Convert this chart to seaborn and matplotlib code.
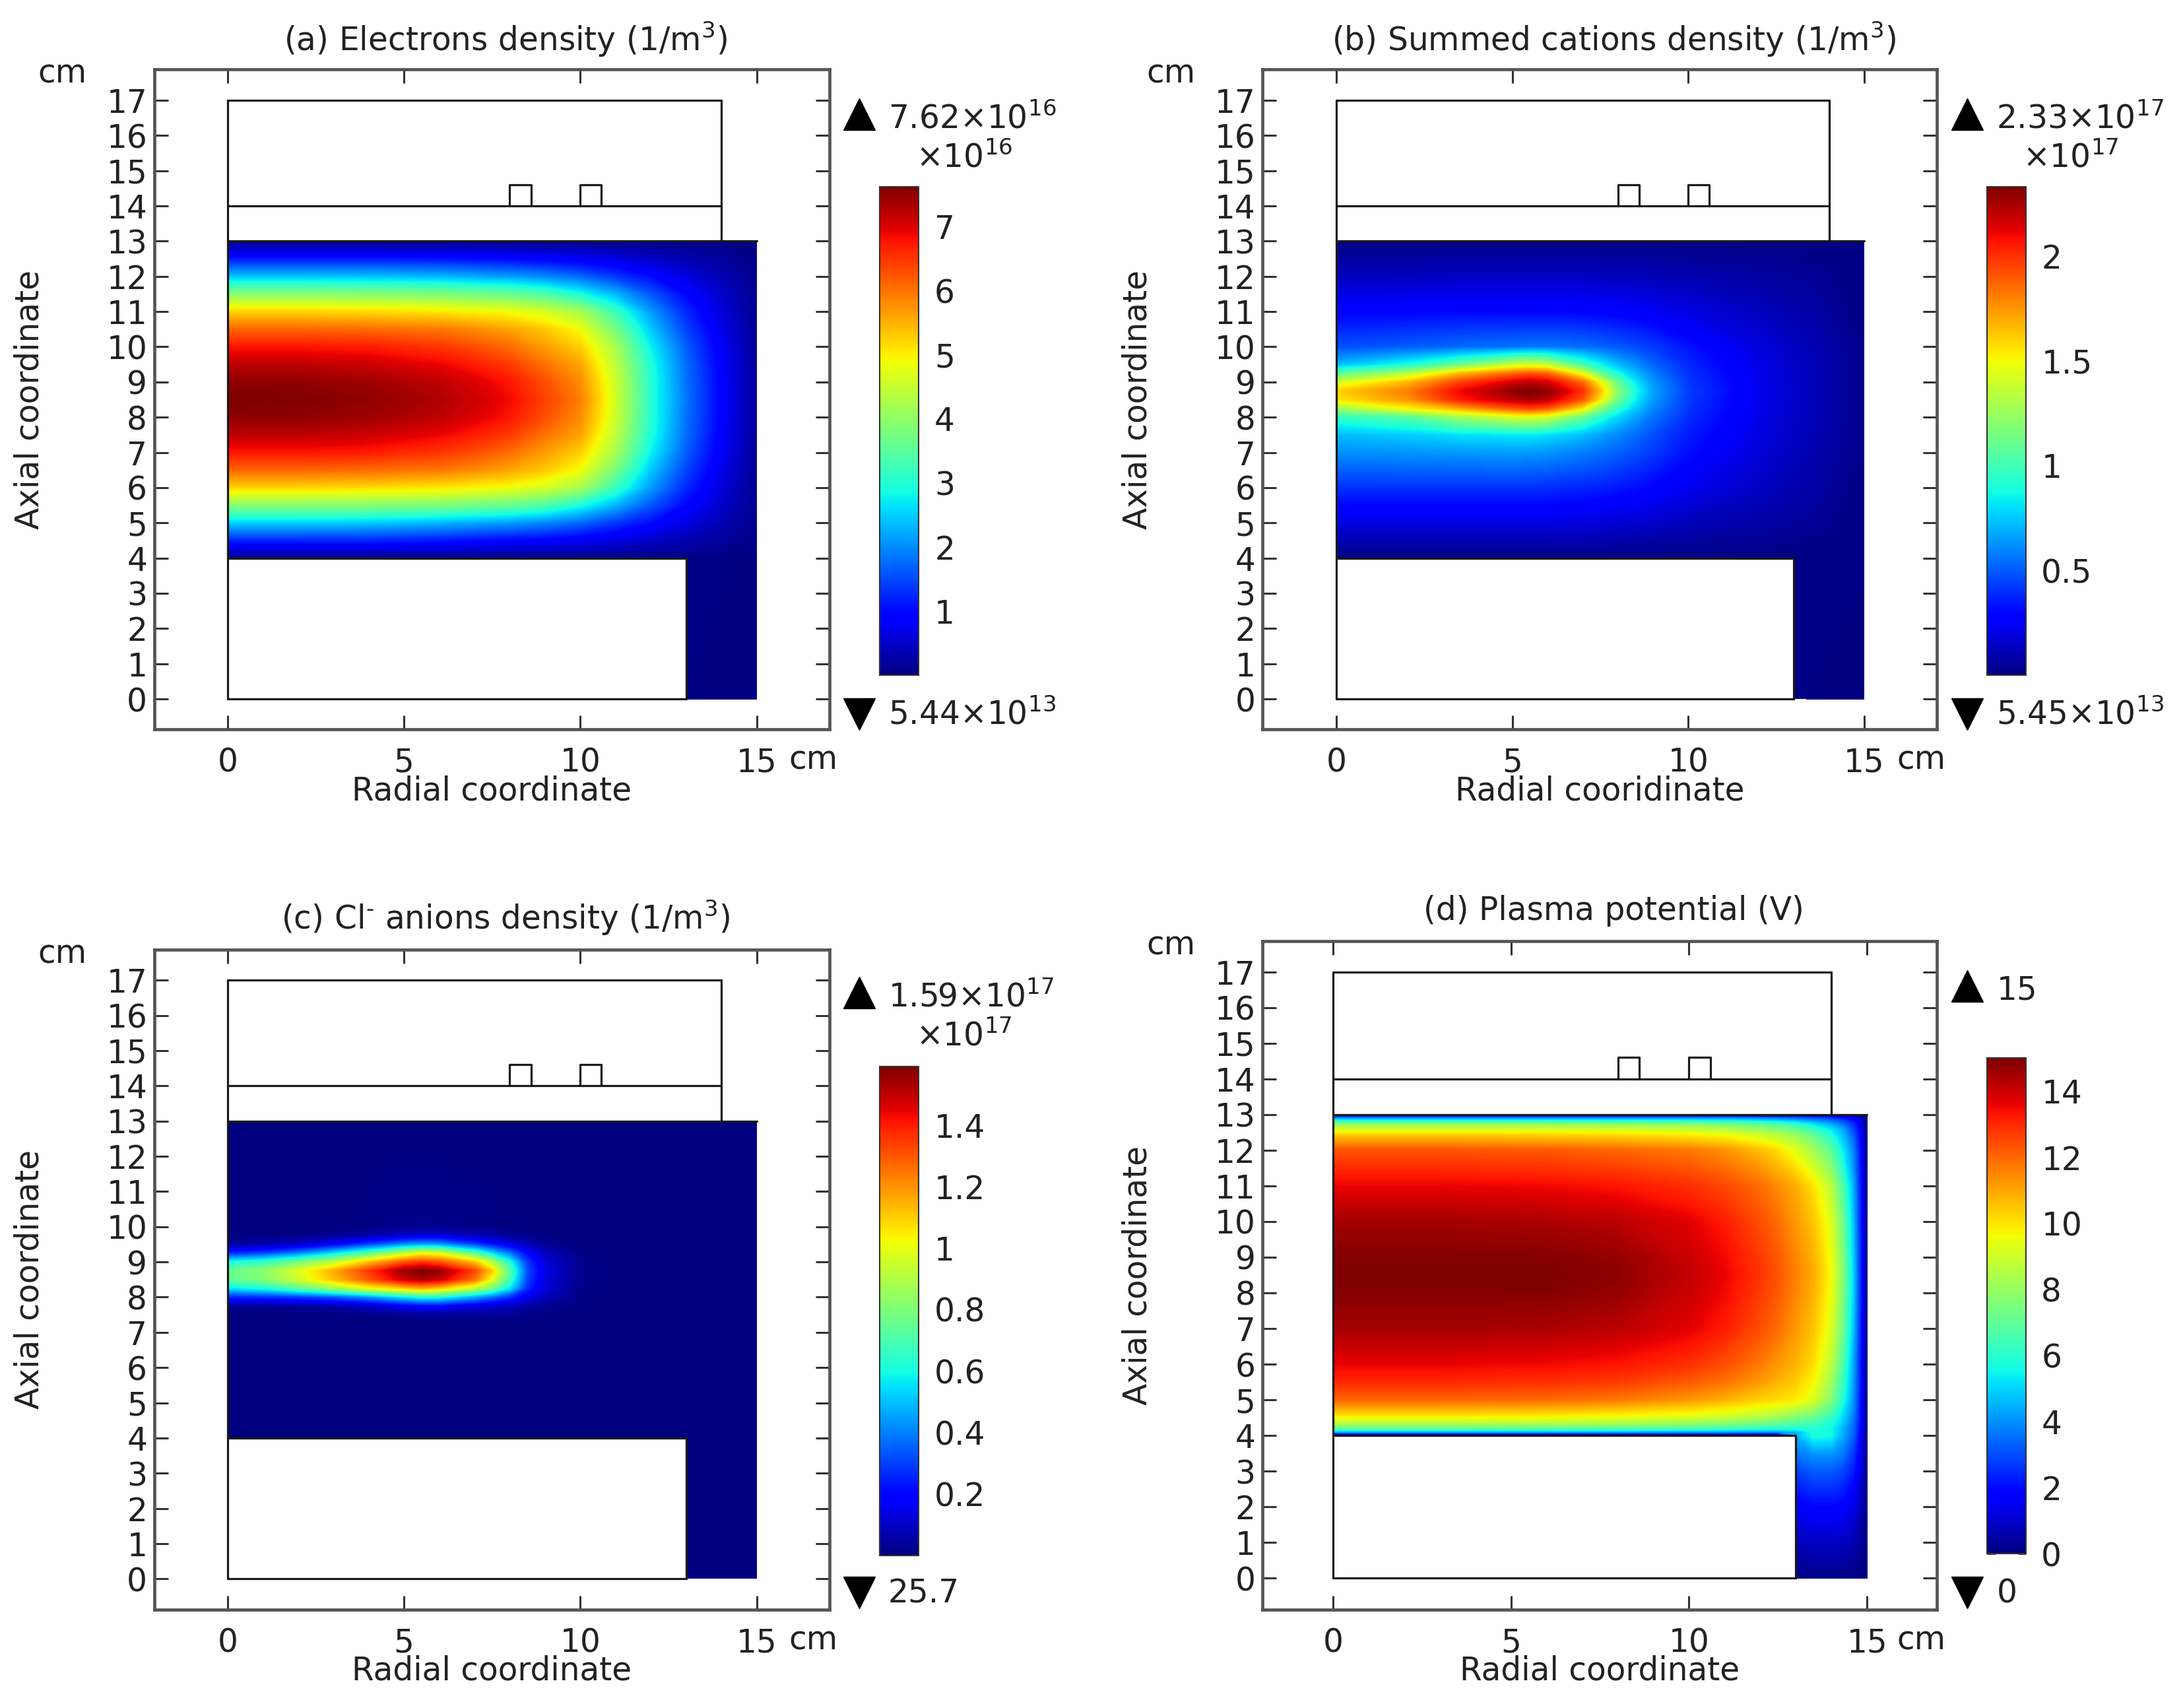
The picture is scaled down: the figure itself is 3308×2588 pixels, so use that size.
import numpy as np
import matplotlib
matplotlib.use("Agg")
import matplotlib.pyplot as plt
from matplotlib.cm import ScalarMappable
from matplotlib.colors import Normalize
from matplotlib.lines import Line2D
import seaborn as sns

# ---------- values ----------
R_A = [0, 2, 4, 6, 7, 8, 9, 10, 11, 12, 13, 14, 15]
Z_A = [4, 4.5, 5, 5.5, 6, 6.5, 7, 7.5, 8, 8.5, 9, 9.5, 10, 10.5, 11, 11.5, 12, 12.5, 13]
ELECTRONS = [
    [.05, .05, .05, .05, .05, .05, .05, .05, .05, .05, .05, .05, .02],
    [1.2, 1.2, 1.2, 1.1, 1.0, .95, .88, .78, .65, .48, .32, .2, .05],
    [2.5, 2.5, 2.45, 2.3, 2.2, 2.1, 1.95, 1.7, 1.35, 1.0, .65, .35, .1],
    [3.9, 3.9, 3.88, 3.8, 3.7, 3.6, 3.35, 2.9, 2.3, 1.6, .95, .5, .1],
    [5.2, 5.2, 5.15, 5.05, 4.95, 4.85, 4.6, 4.2, 3.2, 2.1, 1.25, .6, .12],
    [6.1, 6.1, 6.05, 5.95, 5.8, 5.6, 5.3, 4.85, 3.75, 2.45, 1.45, .7, .14],
    [6.75, 6.75, 6.7, 6.5, 6.3, 6.05, 5.65, 5.25, 4.2, 2.75, 1.65, .8, .15],
    [7.2, 7.2, 7.1, 6.9, 6.7, 6.45, 6.0, 5.6, 4.4, 2.95, 1.75, .85, .16],
    [7.5, 7.5, 7.4, 7.2, 7.0, 6.75, 6.3, 5.8, 4.55, 3.0, 1.8, .9, .17],
    [7.62, 7.6, 7.5, 7.3, 7.1, 6.85, 6.4, 5.9, 4.6, 3.0, 1.85, .9, .17],
    [7.5, 7.5, 7.4, 7.2, 7.0, 6.75, 6.3, 5.8, 4.55, 3.0, 1.8, .9, .17],
    [7.2, 7.2, 7.1, 6.9, 6.7, 6.45, 6.0, 5.6, 4.4, 2.95, 1.75, .85, .16],
    [6.75, 6.75, 6.7, 6.5, 6.3, 6.05, 5.65, 5.25, 4.2, 2.75, 1.65, .8, .15],
    [6.1, 6.1, 6.05, 5.95, 5.8, 5.6, 5.3, 4.85, 3.75, 2.45, 1.45, .7, .14],
    [5.2, 5.2, 5.15, 5.05, 4.95, 4.85, 4.6, 4.2, 3.2, 2.1, 1.25, .6, .12],
    [3.9, 3.9, 3.88, 3.8, 3.7, 3.6, 3.35, 2.9, 2.3, 1.6, .95, .5, .1],
    [2.4, 2.4, 2.38, 2.3, 2.2, 2.1, 1.95, 1.7, 1.35, 1.0, .65, .35, .1],
    [1.1, 1.1, 1.1, 1.05, 1.0, .95, .88, .78, .65, .48, .32, .2, .05],
    [.05, .05, .05, .05, .05, .05, .05, .05, .05, .05, .05, .05, .02],
]

R_B = [0, 2, 3.5, 5, 5.5, 6, 7, 7.5, 8, 8.5, 9, 10, 12, 13.5, 15]
Z_B = [4, 5, 6, 7, 7.5, 8, 8.25, 8.5, 8.75, 9, 9.25, 9.5, 10, 11, 12, 13]
CATIONS = [
    [.01, .01, .01, .01, .01, .01, .01, .01, .01, .01, .01, .01, .01, .01, .01],
    [.2, .2, .2, .2, .2, .2, .19, .18, .17, .16, .15, .12, .08, .05, .01],
    [.4, .4, .4, .4, .4, .39, .37, .36, .34, .32, .29, .23, .14, .08, .01],
    [.62, .63, .64, .65, .64, .63, .58, .55, .51, .47, .42, .32, .18, .1, .02],
    [.72, .76, .8, .82, .82, .8, .72, .66, .6, .54, .47, .35, .2, .11, .02],
    [.95, 1.05, 1.25, 1.4, 1.42, 1.38, 1.1, .92, .78, .66, .55, .39, .21, .12, .02],
    [1.25, 1.5, 1.7, 1.9, 1.95, 1.9, 1.55, 1.2, .95, .75, .6, .41, .22, .12, .02],
    [1.55, 1.75, 2.05, 2.2, 2.25, 2.2, 1.9, 1.55, 1.12, .84, .64, .42, .22, .12, .02],
    [1.6, 1.8, 2.1, 2.3, 2.33, 2.3, 2.0, 1.65, 1.2, .88, .66, .43, .23, .12, .02],
    [1.4, 1.65, 1.95, 2.15, 2.2, 2.15, 1.85, 1.5, 1.1, .82, .63, .42, .22, .12, .02],
    [1.05, 1.3, 1.65, 1.85, 1.9, 1.85, 1.45, 1.1, .88, .72, .58, .4, .22, .12, .02],
    [.72, .88, 1.1, 1.35, 1.4, 1.35, 1.0, .85, .72, .62, .52, .38, .21, .12, .02],
    [.47, .5, .53, .55, .56, .56, .54, .52, .49, .46, .42, .33, .19, .11, .02],
    [.28, .29, .3, .3, .3, .3, .29, .28, .27, .26, .24, .2, .13, .08, .01],
    [.13, .13, .14, .14, .14, .14, .14, .13, .12, .12, .11, .1, .07, .05, .01],
    [.01, .01, .01, .01, .01, .01, .01, .01, .01, .01, .01, .01, .01, .01, .01],
]

R_C = [0, 1, 2, 3, 4, 5, 5.5, 6, 7, 7.5, 8, 8.5, 9, 10, 11, 15]
Z_C = [4, 7.25, 7.5, 7.75, 8, 8.25, 8.5, 8.75, 9, 9.25, 9.5, 9.75, 10, 13]
ANIONS = [
    [0, 0, 0, 0, 0, 0, 0, 0, 0, 0, 0, 0, 0, 0, 0, 0],
    [0, 0, 0, 0, 0, 0, 0, 0, 0, 0, 0, 0, 0, 0, 0, 0],
    [0, 0, 0, 0, .01, .02, .03, .03, .03, .03, .03, .02, .01, 0, 0, 0],
    [.03, .03, .04, .06, .1, .17, .19, .19, .14, .11, .08, .05, .03, .01, 0, 0],
    [.25, .26, .28, .33, .42, .55, .6, .6, .45, .36, .27, .16, .08, .01, 0, 0],
    [.55, .6, .72, .85, 1.0, 1.1, 1.15, 1.1, .92, .78, .55, .26, .12, .02, 0, 0],
    [.74, .8, .95, 1.12, 1.3, 1.48, 1.52, 1.48, 1.25, 1.0, .68, .3, .13, .02, 0, 0],
    [.76, .82, .98, 1.15, 1.35, 1.55, 1.59, 1.56, 1.33, 1.1, .72, .32, .14, .02, 0, 0],
    [.6, .66, .78, .92, 1.12, 1.3, 1.35, 1.3, 1.12, .9, .62, .28, .12, .02, 0, 0],
    [.25, .3, .4, .55, .72, .92, 1.0, .98, .72, .55, .38, .2, .09, .01, 0, 0],
    [.04, .06, .1, .18, .3, .42, .45, .44, .3, .22, .15, .08, .03, 0, 0, 0],
    [0, .01, .01, .03, .06, .1, .12, .12, .08, .06, .04, .02, .01, 0, 0, 0],
    [0, 0, 0, 0, .01, .02, .02, .02, .01, .01, 0, 0, 0, 0, 0, 0],
    [0, 0, 0, 0, 0, 0, 0, 0, 0, 0, 0, 0, 0, 0, 0, 0],
]

R_D = [0, 3, 6, 8, 10, 11, 12, 12.5, 13, 13.5, 14, 14.3, 14.6, 14.85, 15]
Z_D = [4, 4.1, 4.2, 4.4, 4.6, 5, 5.5, 6, 7, 8, 8.5, 9, 10, 11, 12, 12.4, 12.6, 12.75, 12.9, 13]
POTENTIAL = [
    [0, 0, 0, 0, 0, 0, 0, 0, 4.5, 5.8, 5.6, 4.5, 3.4, 1.5, 0],
    [4.5, 4.5, 4.5, 4.4, 4.3, 4.2, 4.1, 4.1, 4.5, 5.8, 5.6, 4.6, 3.5, 1.6, 0],
    [7, 7, 6.9, 6.8, 6.6, 6.4, 6.1, 6, 5.9, 5.9, 5.6, 4.6, 3.5, 1.7, 0],
    [9, 9, 8.9, 8.8, 8.4, 8.1, 7.7, 7.4, 7, 6.6, 5.9, 5, 3.7, 1.7, 0],
    [10.2, 10.2, 10.1, 9.9, 9.6, 9.3, 8.9, 8.5, 8, 7.5, 6.5, 5.3, 3.9, 1.8, 0],
    [12, 12, 11.9, 11.7, 11.2, 10.8, 10.3, 10.1, 9.9, 9.2, 7.6, 6, 4.2, 1.8, 0],
    [13, 13, 12.9, 12.7, 12.2, 11.8, 11.2, 10.8, 10.4, 9.7, 8.1, 6.4, 4.4, 1.9, 0],
    [13.6, 13.6, 13.5, 13.3, 12.9, 12.4, 11.7, 11.2, 10.8, 10.1, 8.6, 6.8, 4.5, 1.9, 0],
    [14.5, 14.5, 14.4, 14.2, 13.7, 13.2, 12.4, 11.9, 11.2, 10.5, 9.2, 7.4, 4.9, 2, 0],
    [14.9, 14.9, 14.9, 14.7, 14, 13.5, 12.7, 12.2, 11.5, 10.8, 9.5, 7.7, 5.1, 2.1, 0],
    [15, 15, 15, 14.8, 14.1, 13.6, 12.8, 12.3, 11.6, 10.9, 9.6, 7.8, 5.2, 2.1, 0],
    [14.9, 14.9, 14.9, 14.7, 14, 13.5, 12.7, 12.2, 11.5, 10.8, 9.5, 7.7, 5.1, 2.1, 0],
    [14.5, 14.5, 14.4, 14.2, 13.7, 13.2, 12.4, 11.9, 11.2, 10.5, 9.2, 7.4, 4.9, 2, 0],
    [13.6, 13.6, 13.5, 13.3, 12.9, 12.5, 11.9, 11.4, 10.9, 10, 8.6, 6.8, 4.6, 1.9, 0],
    [12.3, 12.3, 12.2, 12, 11.7, 11.3, 10.6, 10.1, 9.3, 8.2, 6.9, 5.5, 3.9, 1.8, 0],
    [10.5, 10.5, 10.4, 10.3, 10, 9.7, 9.1, 8.7, 8.1, 7.1, 5.9, 4.8, 3.4, 1.6, 0],
    [9, 9, 9, 8.9, 8.7, 8.4, 7.9, 7.5, 7, 6.2, 5.2, 4.3, 3, 1.4, 0],
    [7.5, 7.5, 7.5, 7.4, 7.3, 7.1, 6.7, 6.3, 5.8, 5, 4.2, 3.5, 2.5, 1.2, 0],
    [4, 4, 4, 4, 4, 4, 3.8, 3.6, 3.4, 3.1, 2.7, 2.2, 1.6, .8, 0],
    [0, 0, 0, 0, 0, 0, 0, 0, 0, 0, 0, 0, 0, 0, 0],
]

LEG_R_SIMPLE = [13, 15]
LEG_Z_SIMPLE = [0, 4]
LEG_ELECTRONS = [[.03, .02], [.05, .02]]
LEG_CATIONS = [[.01, .005], [.01, .01]]
LEG_ANIONS = [[0, 0], [.001, .001]]
LEG_R_D = [13, 13.5, 14, 14.3, 14.6, 14.85, 15]
LEG_Z_D = [0, 1, 2, 3, 3.5, 4]
LEG_POTENTIAL = [
    [.1, .1, .1, .1, .1, .05, 0],
    [.7, .9, .9, .85, .7, .35, 0],
    [1.6, 1.9, 1.9, 1.8, 1.4, .7, 0],
    [2.8, 3.2, 3.2, 2.9, 2.3, 1.1, 0],
    [3.6, 4.1, 4.1, 3.7, 2.8, 1.3, 0],
    [4.5, 5.8, 5.6, 4.5, 3.4, 1.5, 0],
]

R_TICKS = [0, 5, 10, 15]
Z_TICKS = list(range(18))
TITLES = [r"(a) Electrons density (1/m$^{3}$)", r"(b) Summed cations density (1/m$^{3}$)",
          r"(c) Cl$^{\text{-}}$ anions density (1/m$^{3}$)", "(d) Plasma potential (V)"]
XLABELS = ["Radial coordinate", "Radial cooridinate", "Radial coordinate", "Radial coordinate"]
YLABEL = "Axial coordinate"
MAX_LABELS = [r"$7.62{\times}10^{16}$", r"$2.33{\times}10^{17}$", r"$1.59{\times}10^{17}$", "15"]
MIN_LABELS = [r"$5.44{\times}10^{13}$", r"$5.45{\times}10^{13}$", "25.7", "0"]
SCALE_LABELS = [r"${\times}10^{16}$", r"${\times}10^{17}$", r"${\times}10^{17}$", None]
CBAR_TICKS = [[1, 2, 3, 4, 5, 6, 7], [.5, 1, 1.5, 2], [.2, .4, .6, .8, 1, 1.2, 1.4],
              [0, 2, 4, 6, 8, 10, 12, 14]]
CBAR_TICKLABELS = [["1", "2", "3", "4", "5", "6", "7"], ["0.5", "1", "1.5", "2"],
                   ["0.2", "0.4", "0.6", "0.8", "1", "1.2", "1.4"],
                   ["0", "2", "4", "6", "8", "10", "12", "14"]]
CBAR_MAX = [7.62, 2.33, 1.59, 15]

# Device outline segments (r list, z list)
SEGMENTS = [
    ([0, 13], [0, 0]), ([13, 13], [0, 4]), ([0, 13], [4, 4]), ([0, 0], [0, 17]),
    ([0, 14], [17, 17]), ([14, 14], [13, 17]), ([0, 14], [14, 14]), ([0, 15], [13, 13]),
    ([8, 8, 8.6, 8.6], [14, 14.6, 14.6, 14]), ([10, 10, 10.6, 10.6], [14, 14.6, 14.6, 14]),
]

# ---------- layout in the shrunk-picture pixels (1568 wide) ----------
W, H = 3308, 2588
S = W / 1568


def fx(x):
    return x * S / W


def fy(y):
    return 1 - y * S / H


PANELS = [
    dict(frame=(111, 50, 596, 524), r0=163.5, r15=543.5, z0=502, z17=72, cbar=(632, 134, 660, 485)),
    dict(frame=(907, 50, 1391, 524), r0=960, r15=1339, z0=502, z17=72, cbar=(1427, 134, 1455, 485)),
    dict(frame=(111, 682, 596, 1156), r0=163.5, r15=543.5, z0=1134, z17=704, cbar=(632, 766, 660, 1117)),
    dict(frame=(907, 676, 1391, 1156), r0=957.5, r15=1341, z0=1133.5, z17=698, cbar=(1427, 760, 1455, 1116)),
]
TITLE_POS = [(363, 32), (1159, 32), (363, 663), (1159, 658)]
XLABEL_POS = [(353, 568), (1149, 568), (353, 1200), (1149, 1200)]
YLABEL_X = [21, 817, 21, 817]
CM_TOP = [(45, 53), (841, 53), (45, 685), (841, 679)]
CM_BOTTOM = [(584, 546), (1380, 546), (584, 1178), (1380, 1178)]
TRI_X = [618, 1414, 618, 1414]
TRI_UP_Y = [82, 82, 713, 708]
TRI_DOWN_Y = [513, 513, 1144, 1144]
SCALE_X = [658, 1453, 658, None]
SCALE_Y = [120, 120, 751, None]

FIELDS = [(R_A, Z_A, ELECTRONS, LEG_R_SIMPLE, LEG_Z_SIMPLE, LEG_ELECTRONS),
          (R_B, Z_B, CATIONS, LEG_R_SIMPLE, LEG_Z_SIMPLE, LEG_CATIONS),
          (R_C, Z_C, ANIONS, LEG_R_SIMPLE, LEG_Z_SIMPLE, LEG_ANIONS),
          (R_D, Z_D, POTENTIAL, LEG_R_D, LEG_Z_D, LEG_POTENTIAL)]

# ---------- drawing ----------
sns.set_theme(style="white")
plt.rcParams["font.family"] = ["DejaVu Sans"]
plt.rcParams["mathtext.fontset"] = "dejavusans"
plt.rcParams["mathtext.default"] = "regular"
TEXT = "#222222"
FS = 35
CMAP = matplotlib.colormaps["jet"]

fig = plt.figure(figsize=(W / 100, H / 100), dpi=100, facecolor="white")

for i, p in enumerate(PANELS):
    l, t, r, b = p["frame"]
    ax = fig.add_axes([fx(l), fy(b), fx(r) - fx(l), fy(t) - fy(b)])
    sx = (p["r15"] - p["r0"]) / 15
    sz = (p["z0"] - p["z17"]) / 17
    ax.set_xlim((l - p["r0"]) / sx, (r - p["r0"]) / sx)
    ax.set_ylim((p["z0"] - b) / sz, (p["z0"] - t) / sz)

    vmax = CBAR_MAX[i]
    levels = np.linspace(0, vmax, 257)
    rr, zz, vals, leg_r, leg_z, leg_vals = FIELDS[i]
    ax.contourf(rr, zz, np.array(vals), levels=levels, cmap=CMAP, extend="both", antialiased=False, zorder=1)
    ax.contourf(leg_r, leg_z, np.array(leg_vals), levels=levels, cmap=CMAP, extend="both", antialiased=False, zorder=1)

    for seg_r, seg_z in SEGMENTS:
        sns.lineplot(x=seg_r, y=seg_z, sort=False, estimator=None, ax=ax, color="#1a1a1a",
                     linewidth=2.3, legend=False, zorder=3)

    ax.set_xticks(R_TICKS)
    ax.set_xticklabels([str(v) for v in R_TICKS])
    ax.set_yticks(Z_TICKS)
    ax.set_yticklabels([str(v) for v in Z_TICKS])
    ax.tick_params(axis="both", direction="in", length=15, width=2.2, color="#333333",
                   top=True, right=True, bottom=True, left=True, labelsize=FS, labelcolor=TEXT)
    ax.tick_params(axis="x", pad=19)
    ax.tick_params(axis="y", pad=8)
    for s in ax.spines.values():
        s.set_color("#555555")
        s.set_linewidth(3.4)
        s.set_visible(True)

    tx, ty = TITLE_POS[i]
    ax.set_title(TITLES[i], fontsize=FS, color=TEXT, x=(tx - l) / (r - l), y=(b - ty) / (b - t), va="center")
    xx, xy = XLABEL_POS[i]
    ax.set_xlabel(XLABELS[i], fontsize=FS, color=TEXT, va="center")
    ax.xaxis.set_label_coords(fx(xx), fy(xy), transform=fig.transFigure)
    ax.set_ylabel(YLABEL, fontsize=FS, color=TEXT, va="center")
    ax.yaxis.set_label_coords(fx(YLABEL_X[i]), fy((t + b) / 2), transform=fig.transFigure)

    fig.text(fx(CM_TOP[i][0]), fy(CM_TOP[i][1]), "cm", fontsize=FS, color=TEXT, ha="center", va="center")
    fig.text(fx(CM_BOTTOM[i][0]), fy(CM_BOTTOM[i][1]), "cm", fontsize=FS, color=TEXT, ha="center", va="center")

    cl, ct, cr, cb = p["cbar"]
    cax = fig.add_axes([fx(cl), fy(cb), fx(cr) - fx(cl), fy(ct) - fy(cb)])
    sm = ScalarMappable(norm=Normalize(0, vmax), cmap=CMAP)
    cbar = fig.colorbar(sm, cax=cax, ticks=CBAR_TICKS[i])
    cbar.ax.set_yticklabels(CBAR_TICKLABELS[i])
    cbar.outline.set_edgecolor("#333333")
    cbar.outline.set_linewidth(1.5)
    cax.tick_params(axis="y", direction="in", length=9, width=2, color="#333333", left=True, right=True,
                    labelsize=FS, labelcolor=TEXT, pad=17)

    fig.add_artist(Line2D([fx(TRI_X[i] - 1)], [fy(TRI_UP_Y[i])], marker="^", markersize=34, color="black",
                          linestyle="none", transform=fig.transFigure))
    fig.add_artist(Line2D([fx(TRI_X[i] - 1)], [fy(TRI_DOWN_Y[i])], marker="v", markersize=34, color="black",
                          linestyle="none", transform=fig.transFigure))
    fig.text(fx(TRI_X[i] + 20), fy(TRI_UP_Y[i] + 10), MAX_LABELS[i], fontsize=FS, color=TEXT, ha="left", va="baseline")
    fig.text(fx(TRI_X[i] + 20), fy(TRI_DOWN_Y[i] + 7), MIN_LABELS[i], fontsize=FS, color=TEXT, ha="left", va="baseline")
    if SCALE_LABELS[i]:
        fig.text(fx(SCALE_X[i]), fy(SCALE_Y[i]), SCALE_LABELS[i], fontsize=FS, color=TEXT, ha="left", va="baseline")

fig.savefig("out.png", dpi=100, facecolor="white")
